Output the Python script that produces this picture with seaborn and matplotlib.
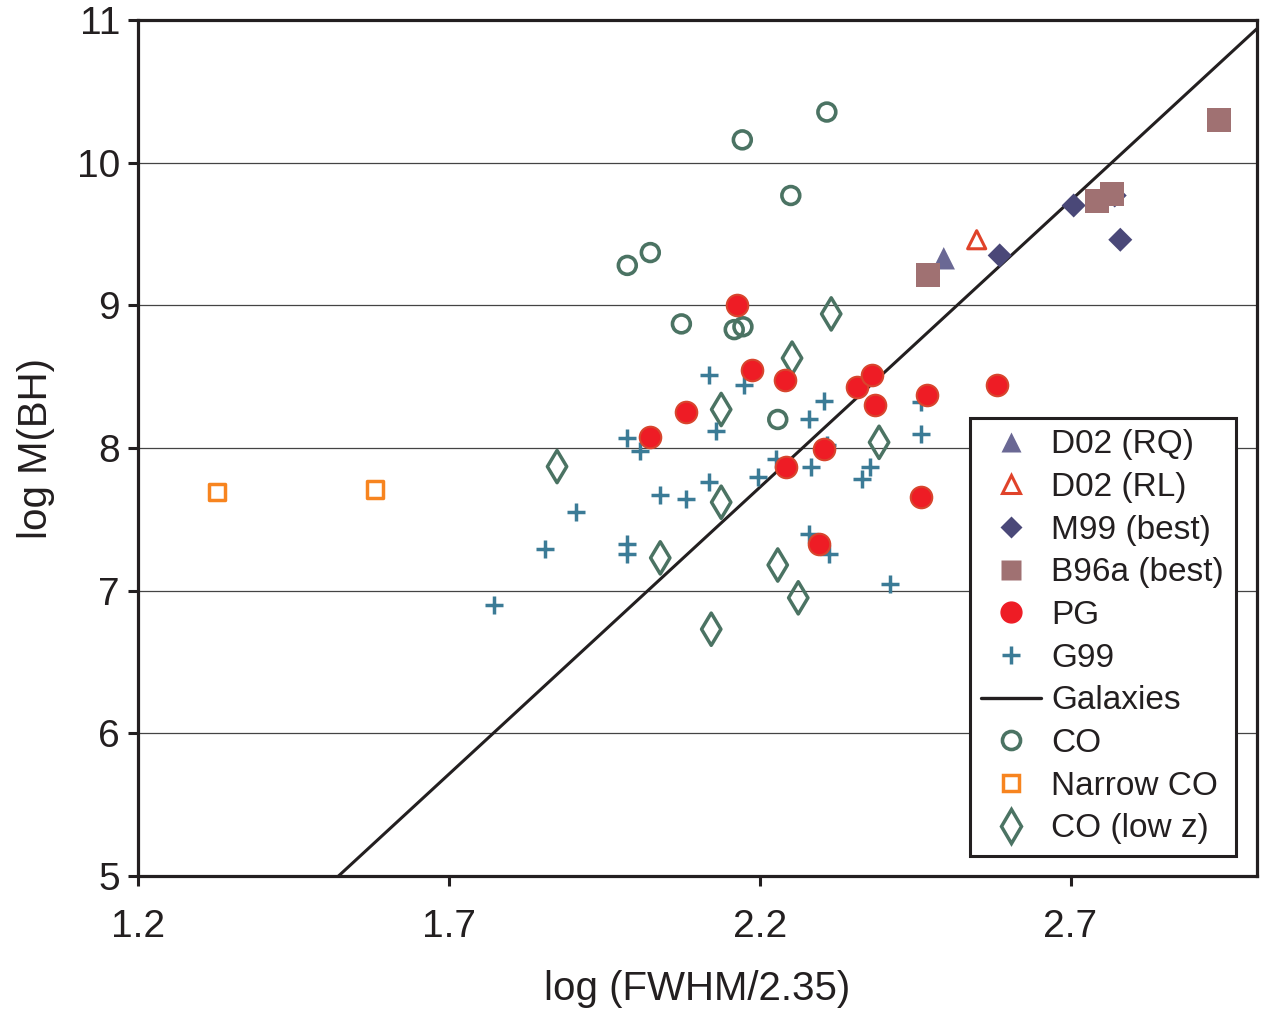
import numpy as np
import matplotlib
matplotlib.use("Agg")
import matplotlib.pyplot as plt
from matplotlib.lines import Line2D
import seaborn as sns

# D02 (RQ) and D02 (RL)
d02_rq_x = [2.496]
d02_rq_y = [9.33]
d02_rl_x = [2.549]
d02_rl_y = [9.46]

# M99 (best)
m99_x = [2.586, 2.705, 2.771, 2.780]
m99_y = [9.35, 9.70, 9.77, 9.46]

# B96a (best)
b96_x = [2.470, 2.743, 2.766, 2.939]
b96_y = [9.21, 9.73, 9.78, 10.30]

# PG
pg_x = [2.164, 2.188, 2.241, 2.356, 2.380, 2.385, 2.469, 2.581, 2.082, 2.024,
        2.303, 2.242, 2.459, 2.295]
pg_y = [9.00, 8.55, 8.48, 8.43, 8.51, 8.30, 8.37, 8.44, 8.25, 8.08,
        7.99, 7.87, 7.66, 7.33]

# G99
g99_x = [1.773, 1.855, 1.905, 1.987, 2.008, 1.987, 1.987, 2.040, 2.082, 2.119,
         2.175, 2.130, 2.119, 2.197, 2.226, 2.282, 2.279, 2.303, 2.308, 2.279,
         2.311, 2.364, 2.377, 2.459, 2.459, 2.409]
g99_y = [6.90, 7.29, 7.55, 8.07, 7.98, 7.33, 7.26, 7.67, 7.64, 8.51,
         8.44, 8.12, 7.76, 7.80, 7.92, 7.87, 8.20, 8.33, 8.02, 7.40,
         7.26, 7.78, 7.87, 8.32, 8.10, 7.05]

# CO
co_x = [2.308, 2.172, 2.250, 1.987, 2.024, 2.074, 2.159, 2.173, 2.229]
co_y = [10.355, 10.16, 9.77, 9.28, 9.37, 8.87, 8.83, 8.85, 8.20]

# Narrow CO
narrow_x = [1.327, 1.581]
narrow_y = [7.69, 7.71]

# CO (low z)
lowz_x = [1.874, 2.315, 2.252, 2.138, 2.392, 2.138, 2.040, 2.229, 2.262, 2.122]
lowz_y = [7.87, 8.94, 8.63, 8.27, 8.04, 7.62, 7.23, 7.18, 6.95, 6.73]

# Galaxies relation: log M = 8.13 + 4.02 log(sigma/200)
gal_slope = 4.02
gal_norm = 8.13

sns.set_style("white")
plt.rcParams['font.family'] = ['Liberation Sans', 'DejaVu Sans']

fig = plt.figure(figsize=(12.63, 10.11), dpi=100)
ax = fig.add_axes([0.1093, 0.1335, 0.886, 0.8467])

ax.yaxis.grid(True, color='#444444', linewidth=0.9, zorder=0)
ax.set_axisbelow(True)

c_co = '#4b7363'
c_g99 = '#3b7b96'

gx = np.linspace(1.2, 3.0, 50)
gy = gal_norm + gal_slope * (gx - np.log10(200))
sns.lineplot(x=gx, y=gy, color='#231f20', linewidth=2.2, ax=ax, zorder=3)

sns.scatterplot(x=co_x, y=co_y, marker='o', s=165, facecolor='none',
                edgecolor=c_co, linewidth=2.6, ax=ax, zorder=4)
sns.scatterplot(x=narrow_x, y=narrow_y, marker='s', s=140, facecolor='none',
                edgecolor='#f7841f', linewidth=2.5, ax=ax, zorder=4)
sns.scatterplot(x=lowz_x, y=lowz_y, marker='d', s=270, facecolor='none',
                edgecolor=c_co, linewidth=2.5, ax=ax, zorder=4)
sns.scatterplot(x=g99_x, y=g99_y, marker='+', s=150, color=c_g99,
                linewidth=2.5, ax=ax, zorder=5)
sns.scatterplot(x=pg_x, y=pg_y, marker='o', s=240, color='#ee1c25',
                edgecolor='#d8452e', linewidth=1.5, ax=ax, zorder=6)
sns.scatterplot(x=d02_rq_x, y=d02_rq_y, marker='^', s=260, color='#6a6894',
                edgecolor='none', ax=ax, zorder=6)
sns.scatterplot(x=d02_rl_x, y=d02_rl_y, marker='^', s=170, facecolor='none',
                edgecolor='#e0432a', linewidth=2.2, ax=ax, zorder=6)
sns.scatterplot(x=m99_x, y=m99_y, marker='D', s=150, color='#4a4878',
                edgecolor='none', ax=ax, zorder=6)
sns.scatterplot(x=b96_x, y=b96_y, marker='s', s=300, color='#a07172',
                edgecolor='none', ax=ax, zorder=7)

ax.set_xlim(1.2, 3.0)
ax.set_ylim(5, 11)
ax.set_xticks([1.2, 1.7, 2.2, 2.7])
ax.set_xticklabels(['1.2', '1.7', '2.2', '2.7'])
ax.set_yticks([5, 6, 7, 8, 9, 10, 11])

for sp in ax.spines.values():
    sp.set_linewidth(2.3)
    sp.set_color('#231f20')
    sp.set_visible(True)

ax.tick_params(axis='both', direction='out', length=7, width=2.2,
               bottom=True, left=True, top=False, right=False,
               color='#231f20', labelsize=28, labelcolor='#231f20')
ax.tick_params(axis='x', pad=17)
ax.tick_params(axis='y', pad=6)

ax.set_xlabel('log (FWHM/2.35)', fontsize=29, color='#231f20', labelpad=18)
ax.set_ylabel('log M(BH)', fontsize=29, color='#231f20', labelpad=16)

handles = [
    Line2D([], [], marker='^', linestyle='none', markersize=15,
           markerfacecolor='#6a6894', markeredgecolor='none'),
    Line2D([], [], marker='^', linestyle='none', markersize=13,
           markerfacecolor='none', markeredgecolor='#e0432a', markeredgewidth=2.2),
    Line2D([], [], marker='D', linestyle='none', markersize=11,
           markerfacecolor='#4a4878', markeredgecolor='none'),
    Line2D([], [], marker='s', linestyle='none', markersize=15,
           markerfacecolor='#a07172', markeredgecolor='none'),
    Line2D([], [], marker='o', linestyle='none', markersize=15,
           markerfacecolor='#ee1c25', markeredgecolor='#ee1c25'),
    Line2D([], [], marker='+', linestyle='none', markersize=13,
           markeredgecolor=c_g99, markeredgewidth=2.5),
    Line2D([], [], color='#231f20', linewidth=2.4),
    Line2D([], [], marker='o', linestyle='none', markersize=13,
           markerfacecolor='none', markeredgecolor=c_co, markeredgewidth=2.6),
    Line2D([], [], marker='s', linestyle='none', markersize=12,
           markerfacecolor='none', markeredgecolor='#f7841f', markeredgewidth=2.5),
    Line2D([], [], marker='d', linestyle='none', markersize=17,
           markerfacecolor='none', markeredgecolor=c_co, markeredgewidth=2.5),
]
labels = ['D02 (RQ)', 'D02 (RL)', 'M99 (best)', 'B96a (best)', 'PG', 'G99',
          'Galaxies', 'CO', 'Narrow CO', 'CO (low z)']
leg = ax.legend(handles, labels, loc='lower right', bbox_to_anchor=(0.981, 0.0234),
                fontsize=24, frameon=True, fancybox=False, framealpha=1,
                edgecolor='#231f20', handlelength=1.8, handletextpad=0.3,
                labelspacing=0.35, borderpad=0.35, borderaxespad=0)
leg.get_frame().set_linewidth(2.2)
leg.set_zorder(10)
for t in leg.get_texts():
    t.set_color('#231f20')

fig.savefig('out.png', dpi=100)
